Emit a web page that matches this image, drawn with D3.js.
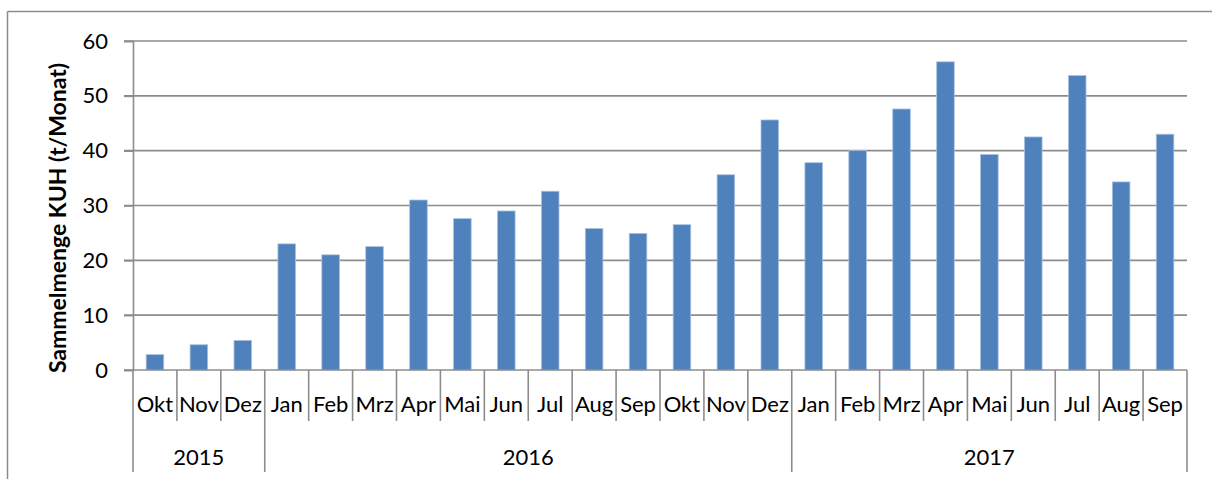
<!DOCTYPE html>
<html><head><meta charset="utf-8">
<script src="https://cdn.jsdelivr.net/npm/d3@7"></script>
<style>body{margin:0;background:#fff}svg{display:block}</style>
</head><body>
<svg id="c" width="1212" height="479"></svg>
<script>
const months = ["Okt","Nov","Dez","Jan","Feb","Mrz","Apr","Mai","Jun","Jul","Aug","Sep","Okt","Nov","Dez","Jan","Feb","Mrz","Apr","Mai","Jun","Jul","Aug","Sep"];
const years = ["2015","2016","2017"];
const yearCounts = [3, 12, 9];
const values = [2.8,4.6,5.4,23,21,22.5,31,27.6,29,32.6,25.8,24.9,26.5,35.6,45.6,37.8,40,47.6,56.2,39.3,42.5,53.7,34.3,43];
const yTicks = [0,10,20,30,40,50,60];
const yTitle = "Sammelmenge KUH (t/Monat)";

const svg = d3.select("#c");
const font = "Lato, 'Open Sans', sans-serif";
const L = 133, R = 1187, T = 41, B = 370;
const grid = "#8c8c8c";

// outer border
svg.append("line").attr("x1",7.5).attr("x2",1212).attr("y1",11.5).attr("y2",11.5).attr("stroke","#8c8c8c").attr("stroke-width",1.5);
svg.append("line").attr("x1",7.5).attr("x2",7.5).attr("y1",11.5).attr("y2",479).attr("stroke","#8c8c8c").attr("stroke-width",1.5);

const idx = months.map((m,i)=>i);
const x = d3.scaleBand().domain(idx).range([L,R]).paddingInner(0.6).paddingOuter(0.3);
const y = d3.scaleLinear().domain([0,60]).range([B,T]);

// gridlines
svg.append("g").selectAll("line").data(yTicks.filter(d=>d>0)).join("line")
  .attr("x1",L-9).attr("x2",R).attr("y1",d=>y(d)).attr("y2",d=>y(d))
  .attr("stroke",grid).attr("stroke-width",1.6);

// y axis
const ya = svg.append("g").attr("transform",`translate(${L},0)`)
  .call(d3.axisLeft(y).tickValues(yTicks).tickSize(9).tickPadding(16));
ya.select(".domain").attr("stroke",grid).attr("stroke-width",1.6);
ya.selectAll(".tick line").attr("stroke",grid).attr("stroke-width",1.6);
ya.selectAll(".tick text").attr("font-family",font).attr("font-size",22).attr("fill","#000");

// bars
svg.append("g").selectAll("rect").data(values).join("rect")
  .attr("x",(d,i)=>x(i)).attr("width",x.bandwidth())
  .attr("y",d=>y(d)).attr("height",d=>B-y(d))
  .attr("fill","#4f81bd").attr("stroke","#a9c0df").attr("stroke-width",0.8);

// x axis baseline
svg.append("line").attr("x1",L-9).attr("x2",R).attr("y1",B).attr("y2",B).attr("stroke",grid).attr("stroke-width",1.6);

// category boundary ticks
const cx = d3.scaleLinear().domain([0,months.length]).range([L,R]);
const bounds = d3.range(months.length+1);
const yearBounds = [0];
yearCounts.reduce((a,c)=>{yearBounds.push(a+c);return a+c;},0);
svg.append("g").selectAll("line").data(bounds).join("line")
  .attr("x1",d=>cx(d)).attr("x2",d=>cx(d)).attr("y1",B)
  .attr("y2",d=>yearBounds.includes(d)?472:421)
  .attr("stroke",grid).attr("stroke-width",1.6);

// month labels
svg.append("g").selectAll("text").data(months).join("text")
  .attr("x",(d,i)=>x(i)+x.bandwidth()/2).attr("y",412)
  .attr("text-anchor","middle").attr("font-family",font).attr("font-size",22).attr("fill","#000")
  .text(d=>d);

// year labels
svg.append("g").selectAll("text").data(years).join("text")
  .attr("x",(d,i)=>(cx(yearBounds[i])+cx(yearBounds[i+1]))/2).attr("y",465)
  .attr("text-anchor","middle").attr("font-family",font).attr("font-size",22).attr("fill","#000")
  .text(d=>d);

// y title
svg.append("text").attr("transform",`translate(66,218) rotate(-90)`)
  .attr("text-anchor","middle").attr("font-family",font).attr("font-weight","bold").attr("font-size",23).attr("fill","#000")
  .text(yTitle);
</script>
</body></html>
